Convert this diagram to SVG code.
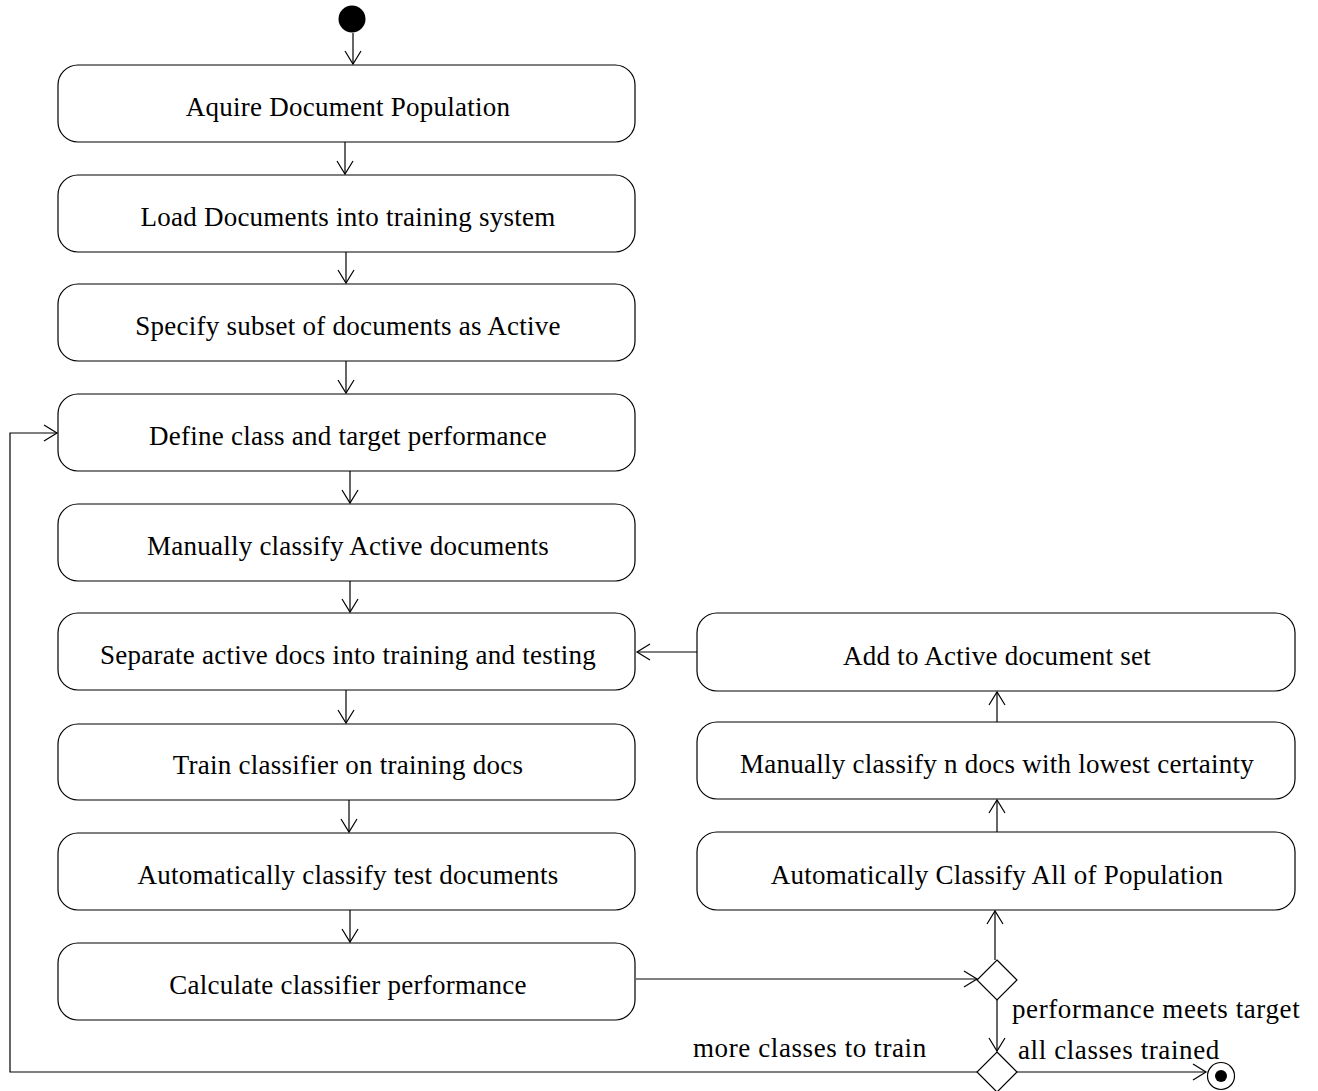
<svg xmlns="http://www.w3.org/2000/svg" width="1318" height="1091" viewBox="0 0 1318 1091">
<style>
.box{fill:#fff;stroke:#000;stroke-width:1.2}
.t{font-family:"Liberation Serif","Times New Roman",serif;font-size:27px;letter-spacing:0.25px;fill:#000;text-anchor:middle}
.l{font-family:"Liberation Serif","Times New Roman",serif;font-size:27px;letter-spacing:0.6px;fill:#000}
.c{fill:none;stroke:#000;stroke-width:1.2}
</style>
<defs>
<marker id="ah" markerUnits="userSpaceOnUse" markerWidth="20" markerHeight="20" viewBox="-14 -10 16 20" refX="0" refY="0" orient="auto">
<path d="M-13,-8 L0,0 L-13,8" fill="none" stroke="#000" stroke-width="1.2"/>
</marker>
</defs>
<rect width="1318" height="1091" fill="#fff"/>
<g id="connectors">
<line class="c" x1="353" y1="33" x2="353" y2="64" marker-end="url(#ah)"/>
<line class="c" x1="345" y1="142" x2="345" y2="174" marker-end="url(#ah)"/>
<line class="c" x1="346" y1="252" x2="346" y2="283" marker-end="url(#ah)"/>
<line class="c" x1="346" y1="361" x2="346" y2="393" marker-end="url(#ah)"/>
<line class="c" x1="350" y1="471" x2="350" y2="503" marker-end="url(#ah)"/>
<line class="c" x1="350" y1="581" x2="350" y2="612" marker-end="url(#ah)"/>
<line class="c" x1="346" y1="690" x2="346" y2="723" marker-end="url(#ah)"/>
<line class="c" x1="349" y1="800" x2="349" y2="832" marker-end="url(#ah)"/>
<line class="c" x1="350" y1="910" x2="350" y2="942" marker-end="url(#ah)"/>
<line class="c" x1="636" y1="979" x2="977" y2="979" marker-end="url(#ah)"/>
<line class="c" x1="995" y1="960" x2="995" y2="911" marker-end="url(#ah)"/>
<line class="c" x1="997" y1="832" x2="997" y2="800" marker-end="url(#ah)"/>
<line class="c" x1="997" y1="722" x2="997" y2="692" marker-end="url(#ah)"/>
<line class="c" x1="697" y1="652" x2="637" y2="652" marker-end="url(#ah)"/>
<line class="c" x1="997" y1="1000" x2="997" y2="1051" marker-end="url(#ah)"/>
<line class="c" x1="1017" y1="1072" x2="1206" y2="1072" marker-end="url(#ah)"/>
<polyline class="c" points="977,1072 10,1072 10,433 57,433" marker-end="url(#ah)"/>
<text class="l" x="1012" y="1018">performance meets target</text>
<text class="l" x="1018" y="1059">all classes trained</text>
<text class="l" x="693" y="1057">more classes to train</text>
</g>
<g id="start"><circle cx="352" cy="19" r="13.5" fill="#000"/></g>
<g id="n1"><rect class="box" x="58" y="65" width="577" height="77" rx="20"/><text class="t" x="348" y="116">Aquire Document Population</text></g>
<g id="n2"><rect class="box" x="58" y="175" width="577" height="77" rx="20"/><text class="t" x="348" y="226">Load Documents into training system</text></g>
<g id="n3"><rect class="box" x="58" y="284" width="577" height="77" rx="20"/><text class="t" x="348" y="335">Specify subset of documents as Active</text></g>
<g id="n4"><rect class="box" x="58" y="394" width="577" height="77" rx="20"/><text class="t" x="348" y="445">Define class and target performance</text></g>
<g id="n5"><rect class="box" x="58" y="504" width="577" height="77" rx="20"/><text class="t" x="348" y="555">Manually classify Active documents</text></g>
<g id="n6"><rect class="box" x="58" y="613" width="577" height="77" rx="20"/><text class="t" x="348" y="664">Separate active docs into training and testing</text></g>
<g id="n7"><rect class="box" x="58" y="724" width="577" height="76" rx="20"/><text class="t" x="348" y="774">Train classifier on training docs</text></g>
<g id="n8"><rect class="box" x="58" y="833" width="577" height="77" rx="20"/><text class="t" x="348" y="884">Automatically classify test documents</text></g>
<g id="n9"><rect class="box" x="58" y="943" width="577" height="77" rx="20"/><text class="t" x="348" y="994">Calculate classifier performance</text></g>
<g id="nA"><rect class="box" x="697" y="613" width="598" height="78" rx="20"/><text class="t" x="997" y="665">Add to Active document set</text></g>
<g id="nB"><rect class="box" x="697" y="722" width="598" height="77" rx="20"/><text class="t" x="997" y="773">Manually classify n docs with lowest certainty</text></g>
<g id="nC"><rect class="box" x="697" y="832" width="598" height="78" rx="20"/><text class="t" x="997" y="884">Automatically Classify All of Population</text></g>
<g id="d1"><polygon class="box" points="997,960 1017,980 997,1000 977,980"/></g>
<g id="d2"><polygon class="box" points="997,1052 1017,1072 997,1092 977,1072"/></g>
<g id="end"><circle cx="1221" cy="1076" r="13.5" fill="#fff" stroke="#000" stroke-width="1.2"/><circle cx="1221" cy="1076" r="6" fill="#000"/></g>
</svg>
